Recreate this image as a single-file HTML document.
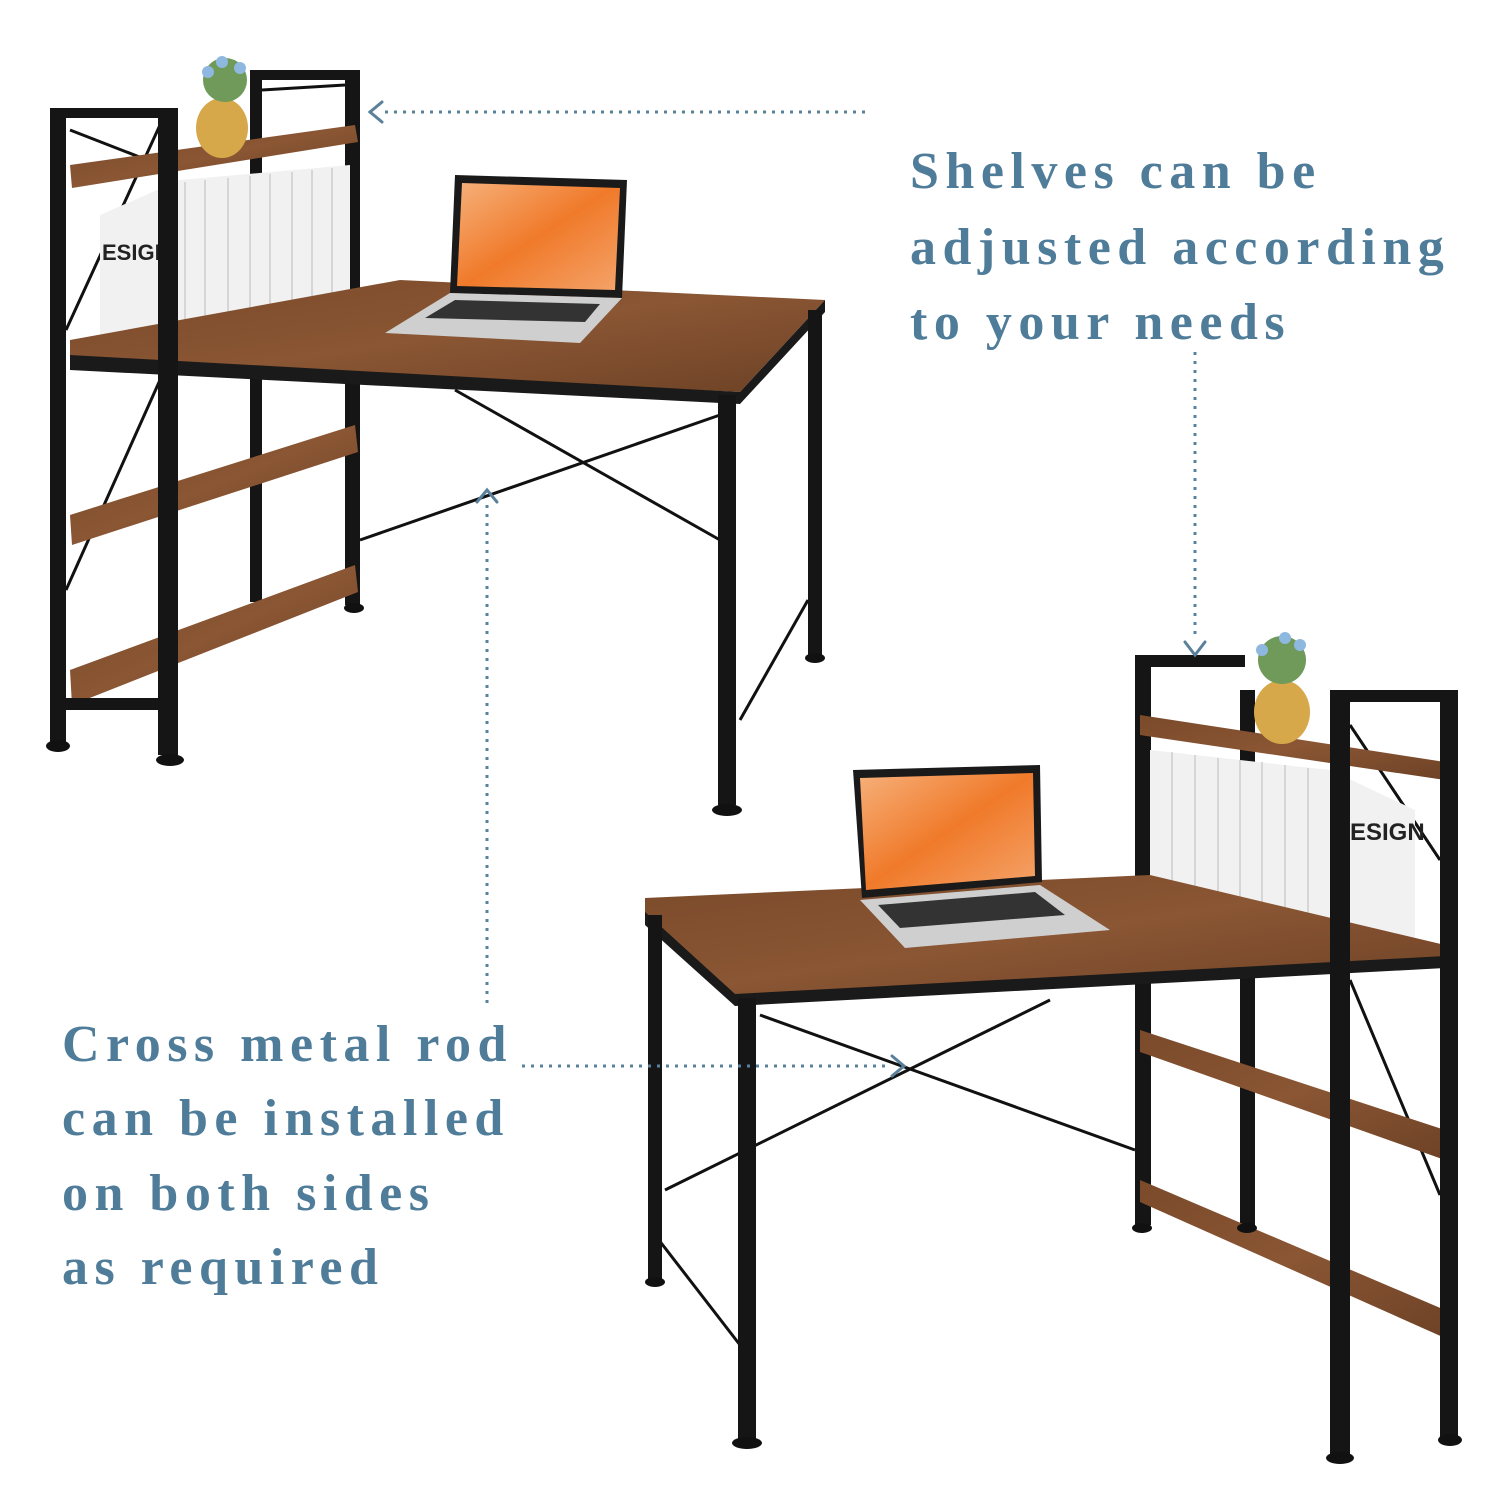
<!DOCTYPE html>
<html><head><meta charset="utf-8"><style>
html,body{margin:0;padding:0;background:#fff;}
svg{display:block;}
.t{font-family:"Liberation Serif",serif;font-weight:bold;font-size:52px;fill:#4f7c99;letter-spacing:6.5px;}
</style></head><body>
<svg width="1500" height="1500" viewBox="0 0 1500 1500" xmlns="http://www.w3.org/2000/svg">
<defs>
<linearGradient id="wood" x1="0" y1="0" x2="1" y2="1">
<stop offset="0" stop-color="#7a4a2a"/><stop offset="0.5" stop-color="#8a5634"/><stop offset="1" stop-color="#6e4226"/>
</linearGradient>
<linearGradient id="scr" x1="0" y1="0" x2="1" y2="1">
<stop offset="0" stop-color="#f6b07a"/><stop offset="0.5" stop-color="#f07a2a"/><stop offset="1" stop-color="#f4a36a"/>
</linearGradient>
</defs>
<rect width="1500" height="1500" fill="#fff"/>

<!-- ===== Desk 1 (top-left) ===== -->
<g stroke="#111" stroke-width="3" fill="none">
<line x1="455" y1="390" x2="720" y2="540"/>
<line x1="360" y1="540" x2="720" y2="415"/>
<line x1="740" y1="720" x2="808" y2="600"/>
<line x1="66" y1="590" x2="160" y2="380"/>
<line x1="66" y1="330" x2="160" y2="125"/>
<line x1="70" y1="130" x2="160" y2="165"/>
<line x1="262" y1="90" x2="345" y2="85"/>
</g>
<rect x="250" y="72" width="12" height="530" fill="#151515"/>
<rect x="345" y="70" width="15" height="535" fill="#151515"/>
<rect x="250" y="70" width="110" height="10" fill="#151515"/>
<polygon points="70,165 355,125 358,142 72,188" fill="url(#wood)"/>
<polygon points="100,215 180,180 350,165 350,330 180,345 100,342" fill="#f1f1f1"/>
<g stroke="#bbb" stroke-width="1">
<line x1="185" y1="182" x2="185" y2="345"/><line x1="205" y1="180" x2="205" y2="343"/><line x1="228" y1="178" x2="228" y2="340"/><line x1="250" y1="176" x2="250" y2="338"/><line x1="270" y1="174" x2="270" y2="336"/><line x1="292" y1="172" x2="292" y2="334"/><line x1="312" y1="170" x2="312" y2="332"/><line x1="332" y1="168" x2="332" y2="330"/>
</g>
<text x="102" y="260" font-family="Liberation Sans,sans-serif" font-weight="bold" font-size="22" fill="#222">ESIGN</text>
<ellipse cx="222" cy="128" rx="26" ry="30" fill="#d6a84a"/>
<circle cx="225" cy="80" r="22" fill="#6f9a5a"/>
<circle cx="208" cy="72" r="6" fill="#8fb8e0"/><circle cx="240" cy="68" r="6" fill="#8fb8e0"/><circle cx="222" cy="62" r="6" fill="#8fb8e0"/>
<polygon points="70,340 400,280 825,300 740,392 70,360" fill="url(#wood)"/>
<polygon points="70,355 740,392 740,404 70,370" fill="#1a1a1a"/>
<polygon points="740,392 825,300 825,312 740,404" fill="#1a1a1a"/>
<polygon points="70,515 355,425 358,452 72,545" fill="url(#wood)"/>
<polygon points="70,670 355,565 358,592 72,705" fill="url(#wood)"/>
<rect x="50" y="108" width="16" height="637" fill="#151515"/>
<rect x="158" y="110" width="20" height="645" fill="#151515"/>
<rect x="50" y="108" width="128" height="10" fill="#151515"/>
<rect x="60" y="698" width="110" height="12" fill="#151515"/>
<ellipse cx="58" cy="746" rx="12" ry="6" fill="#111"/>
<ellipse cx="170" cy="760" rx="14" ry="6" fill="#111"/>
<ellipse cx="354" cy="608" rx="10" ry="5" fill="#111"/>
<rect x="718" y="395" width="18" height="410" fill="#151515"/>
<rect x="808" y="310" width="14" height="345" fill="#151515"/>
<ellipse cx="727" cy="810" rx="15" ry="6" fill="#111"/>
<ellipse cx="815" cy="658" rx="10" ry="5" fill="#111"/>
<polygon points="455,175 627,180 622,298 450,293" fill="#1a1a1a"/>
<polygon points="462,183 620,188 615,290 457,286" fill="url(#scr)"/>
<polygon points="385,333 450,293 622,298 580,343" fill="#cfcfcf"/>
<polygon points="425,318 455,300 600,304 585,322" fill="#333"/>

<!-- ===== Desk 2 (bottom-right) ===== -->
<g stroke="#111" stroke-width="3" fill="none">
<line x1="760" y1="1015" x2="1135" y2="1150"/>
<line x1="665" y1="1190" x2="1050" y2="1000"/>
<line x1="655" y1="1235" x2="740" y2="1345"/>
<line x1="1350" y1="980" x2="1440" y2="1195"/>
<line x1="1350" y1="725" x2="1440" y2="860"/>
</g>
<rect x="1240" y="690" width="15" height="535" fill="#151515"/>
<rect x="1135" y="655" width="16" height="570" fill="#151515"/>
<rect x="1135" y="655" width="110" height="12" fill="#151515"/>
<polygon points="1140,715 1445,762 1445,780 1140,735" fill="url(#wood)"/>
<polygon points="1150,750 1330,770 1415,810 1415,945 1330,955 1150,920" fill="#f1f1f1"/>
<g stroke="#bbb" stroke-width="1">
<line x1="1172" y1="752" x2="1172" y2="925"/><line x1="1195" y1="755" x2="1195" y2="930"/><line x1="1218" y1="758" x2="1218" y2="935"/><line x1="1240" y1="760" x2="1240" y2="940"/><line x1="1262" y1="762" x2="1262" y2="944"/><line x1="1285" y1="765" x2="1285" y2="948"/><line x1="1308" y1="768" x2="1308" y2="952"/>
</g>
<text x="1350" y="840" font-family="Liberation Sans,sans-serif" font-weight="bold" font-size="24" fill="#222">ESIGN</text>
<ellipse cx="1282" cy="712" rx="28" ry="32" fill="#d6a84a"/>
<circle cx="1282" cy="660" r="24" fill="#6f9a5a"/>
<circle cx="1262" cy="650" r="6" fill="#8fb8e0"/><circle cx="1300" cy="645" r="6" fill="#8fb8e0"/><circle cx="1285" cy="638" r="6" fill="#8fb8e0"/>
<polygon points="645,898 1150,875 1445,945 1445,958 735,996 645,914" fill="url(#wood)"/>
<polygon points="645,912 735,994 735,1006 645,925" fill="#1a1a1a"/>
<polygon points="735,994 1445,956 1445,968 735,1006" fill="#1a1a1a"/>
<polygon points="1140,1030 1445,1130 1445,1160 1140,1052" fill="url(#wood)"/>
<polygon points="1140,1180 1445,1310 1445,1338 1140,1202" fill="url(#wood)"/>
<rect x="1330" y="700" width="20" height="755" fill="#151515"/>
<rect x="1440" y="690" width="18" height="750" fill="#151515"/>
<rect x="1330" y="690" width="128" height="12" fill="#151515"/>
<ellipse cx="1340" cy="1458" rx="14" ry="6" fill="#111"/>
<ellipse cx="1450" cy="1440" rx="12" ry="6" fill="#111"/>
<ellipse cx="1142" cy="1228" rx="10" ry="5" fill="#111"/>
<ellipse cx="1247" cy="1228" rx="10" ry="5" fill="#111"/>
<rect x="648" y="915" width="14" height="365" fill="#151515"/>
<rect x="738" y="998" width="18" height="442" fill="#151515"/>
<ellipse cx="655" cy="1282" rx="10" ry="5" fill="#111"/>
<ellipse cx="747" cy="1443" rx="15" ry="6" fill="#111"/>
<polygon points="853,770 1040,765 1042,882 862,898" fill="#1a1a1a"/>
<polygon points="860,778 1033,773 1035,876 866,890" fill="url(#scr)"/>
<polygon points="860,900 1040,885 1110,930 905,948" fill="#cfcfcf"/>
<polygon points="878,905 1035,892 1065,915 900,928" fill="#333"/>

<!-- ===== dotted arrows ===== -->
<g stroke="#5a819c" stroke-width="3" stroke-dasharray="3,6" fill="none">
<line x1="385" y1="112" x2="870" y2="112"/>
<line x1="1195" y1="352" x2="1195" y2="640"/>
<line x1="487" y1="505" x2="487" y2="1005"/>
<line x1="522" y1="1066" x2="890" y2="1066"/>
</g>
<g stroke="#5a819c" stroke-width="3" fill="none" stroke-linecap="round">
<polyline points="382,102 370,112 382,122"/>
<polyline points="1185,642 1195,655 1205,642"/>
<polyline points="477,502 487,490 497,502"/>
<polyline points="892,1056 904,1066 892,1076"/>
</g>

<!-- ===== text ===== -->
<text class="t" x="910" y="188">Shelves can be</text>
<text class="t" x="910" y="264">adjusted according</text>
<text class="t" x="910" y="339">to your needs</text>
<text class="t" x="62" y="1061">Cross metal rod</text>
<text class="t" x="62" y="1135">can be installed</text>
<text class="t" x="62" y="1210">on both sides</text>
<text class="t" x="62" y="1284">as required</text>
</svg>
</body></html>
